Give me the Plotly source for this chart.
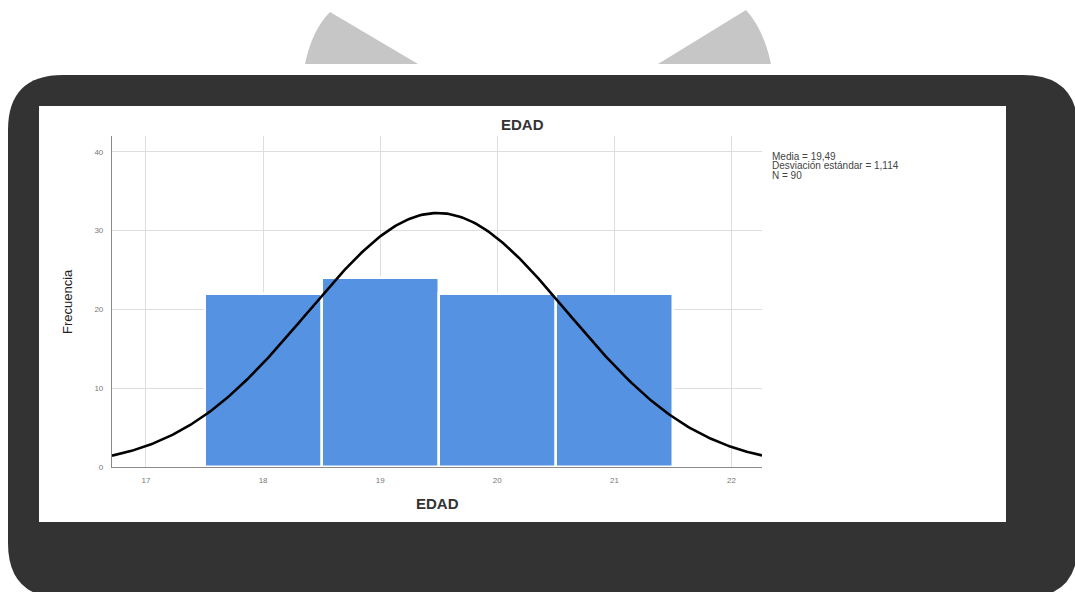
import numpy as np
import plotly.graph_objects as go

# ---- data ----
edad = [18, 19, 20, 21]
frecuencia = [22, 24, 22, 22]
media = 19.49
desv = 1.114
n_total = 90
x_ticks = [17, 18, 19, 20, 21, 22]
y_ticks = [0, 10, 20, 30, 40]
stats_lines = ["Media = 19,49", "Desviación estándar = 1,114", "N = 90"]

# ---- geometry helpers (pixel -> paper) ----
W, H = 1075, 592
L, R, T, B = 112, 762, 136, 467
def px(x):
    return (x - L) / (R - L)
def py(y):
    return (B - y) / (B - T)

xr = [16.71, 22.26]
xs = np.linspace(xr[0], xr[1], 300)
ys = n_total * 1.0 / (desv * np.sqrt(2 * np.pi)) * np.exp(-0.5 * ((xs - media) / desv) ** 2)

fig = go.Figure()
fig.add_trace(go.Bar(
    x=edad, y=frecuencia, width=1.0,
    marker=dict(color="#5592e2", line=dict(color="white", width=2.5)),
    hoverinfo="skip", showlegend=False,
))
fig.add_trace(go.Scatter(
    x=xs, y=ys, mode="lines", line=dict(color="black", width=2.6),
    hoverinfo="skip", showlegend=False,
))

def rrect(x0, y0, x1, y1, r):
    return (f"M {px(x0+r)} {py(y0)} L {px(x1-r)} {py(y0)} Q {px(x1)} {py(y0)} {px(x1)} {py(y0+r)} "
            f"L {px(x1)} {py(y1-r)} Q {px(x1)} {py(y1)} {px(x1-r)} {py(y1)} "
            f"L {px(x0+r)} {py(y1)} Q {px(x0)} {py(y1)} {px(x0)} {py(y1-r)} "
            f"L {px(x0)} {py(y0+r)} Q {px(x0)} {py(y0)} {px(x0+r)} {py(y0)} Z")

shapes = [
    # gray ears
    dict(type="path", xref="paper", yref="paper", layer="below",
         path=f"M {px(330)} {py(12)} Q {px(312)} {py(30)} {px(305)} {py(64)} L {px(418)} {py(64)} Z",
         fillcolor="#c6c6c6", line=dict(width=0)),
    dict(type="path", xref="paper", yref="paper", layer="below",
         path=f"M {px(746)} {py(10)} L {px(658)} {py(64)} L {px(771)} {py(64)} Q {px(764)} {py(30)} {px(746)} {py(10)} Z",
         fillcolor="#c6c6c6", line=dict(width=0)),
    # dark frame
    dict(type="path", xref="paper", yref="paper", layer="below",
         path=rrect(8, 75, 1078, 598, 55), fillcolor="#333333", line=dict(width=0)),
    # inner white panel
    dict(type="rect", xref="paper", yref="paper", layer="below",
         x0=px(39), x1=px(1006), y0=py(522), y1=py(106),
         fillcolor="white", line=dict(width=0)),
]

annotations = [
    dict(text="<b>EDAD</b>", xref="paper", yref="paper", x=px(522), y=py(124),
         showarrow=False, font=dict(family="Liberation Sans", size=15, color="#333333"),
         xanchor="center", yanchor="middle"),
    dict(text="<b>EDAD</b>", xref="paper", yref="paper", x=px(437), y=py(503),
         showarrow=False, font=dict(family="Liberation Sans", size=15, color="#333333"),
         xanchor="center", yanchor="middle"),
    dict(text="Frecuencia", xref="paper", yref="paper", x=px(67), y=py(302),
         showarrow=False, textangle=-90, font=dict(family="Liberation Sans", size=13, color="#222222"),
         xanchor="center", yanchor="middle"),
]
for i, s in enumerate(stats_lines):
    annotations.append(dict(text=s, xref="paper", yref="paper", x=px(770), y=py(156 + 9.5 * i),
                            showarrow=False, font=dict(family="Liberation Sans", size=10, color="#444444"),
                            xanchor="left", yanchor="middle"))

fig.update_layout(
    width=W, height=H,
    margin=dict(l=L, r=W - R, t=T, b=H - B, pad=0),
    paper_bgcolor="white", plot_bgcolor="white",
    bargap=0,
    shapes=shapes, annotations=annotations,
    font=dict(family="Liberation Sans"),
    xaxis=dict(range=xr, tickvals=x_ticks, ticktext=[str(v) for v in x_ticks],
               showgrid=True, gridcolor="#dedede", gridwidth=1,
               showline=True, linecolor="#8a8a8a", linewidth=1.2,
               zeroline=False, ticks="", ticklabelstandoff=5,
               tickfont=dict(size=8, color="#777777")),
    yaxis=dict(range=[0, 42], tickvals=y_ticks, ticktext=[str(v) for v in y_ticks],
               showgrid=True, gridcolor="#dedede", gridwidth=1,
               showline=True, linecolor="#8a8a8a", linewidth=1.2,
               zeroline=False, ticks="", ticklabelstandoff=6,
               tickfont=dict(size=8, color="#777777")),
)

fig.write_html("out.html", config={"displayModeBar": False},
               post_script="document.body.style.margin='0';document.body.style.padding='0';document.body.style.overflow='hidden';")
